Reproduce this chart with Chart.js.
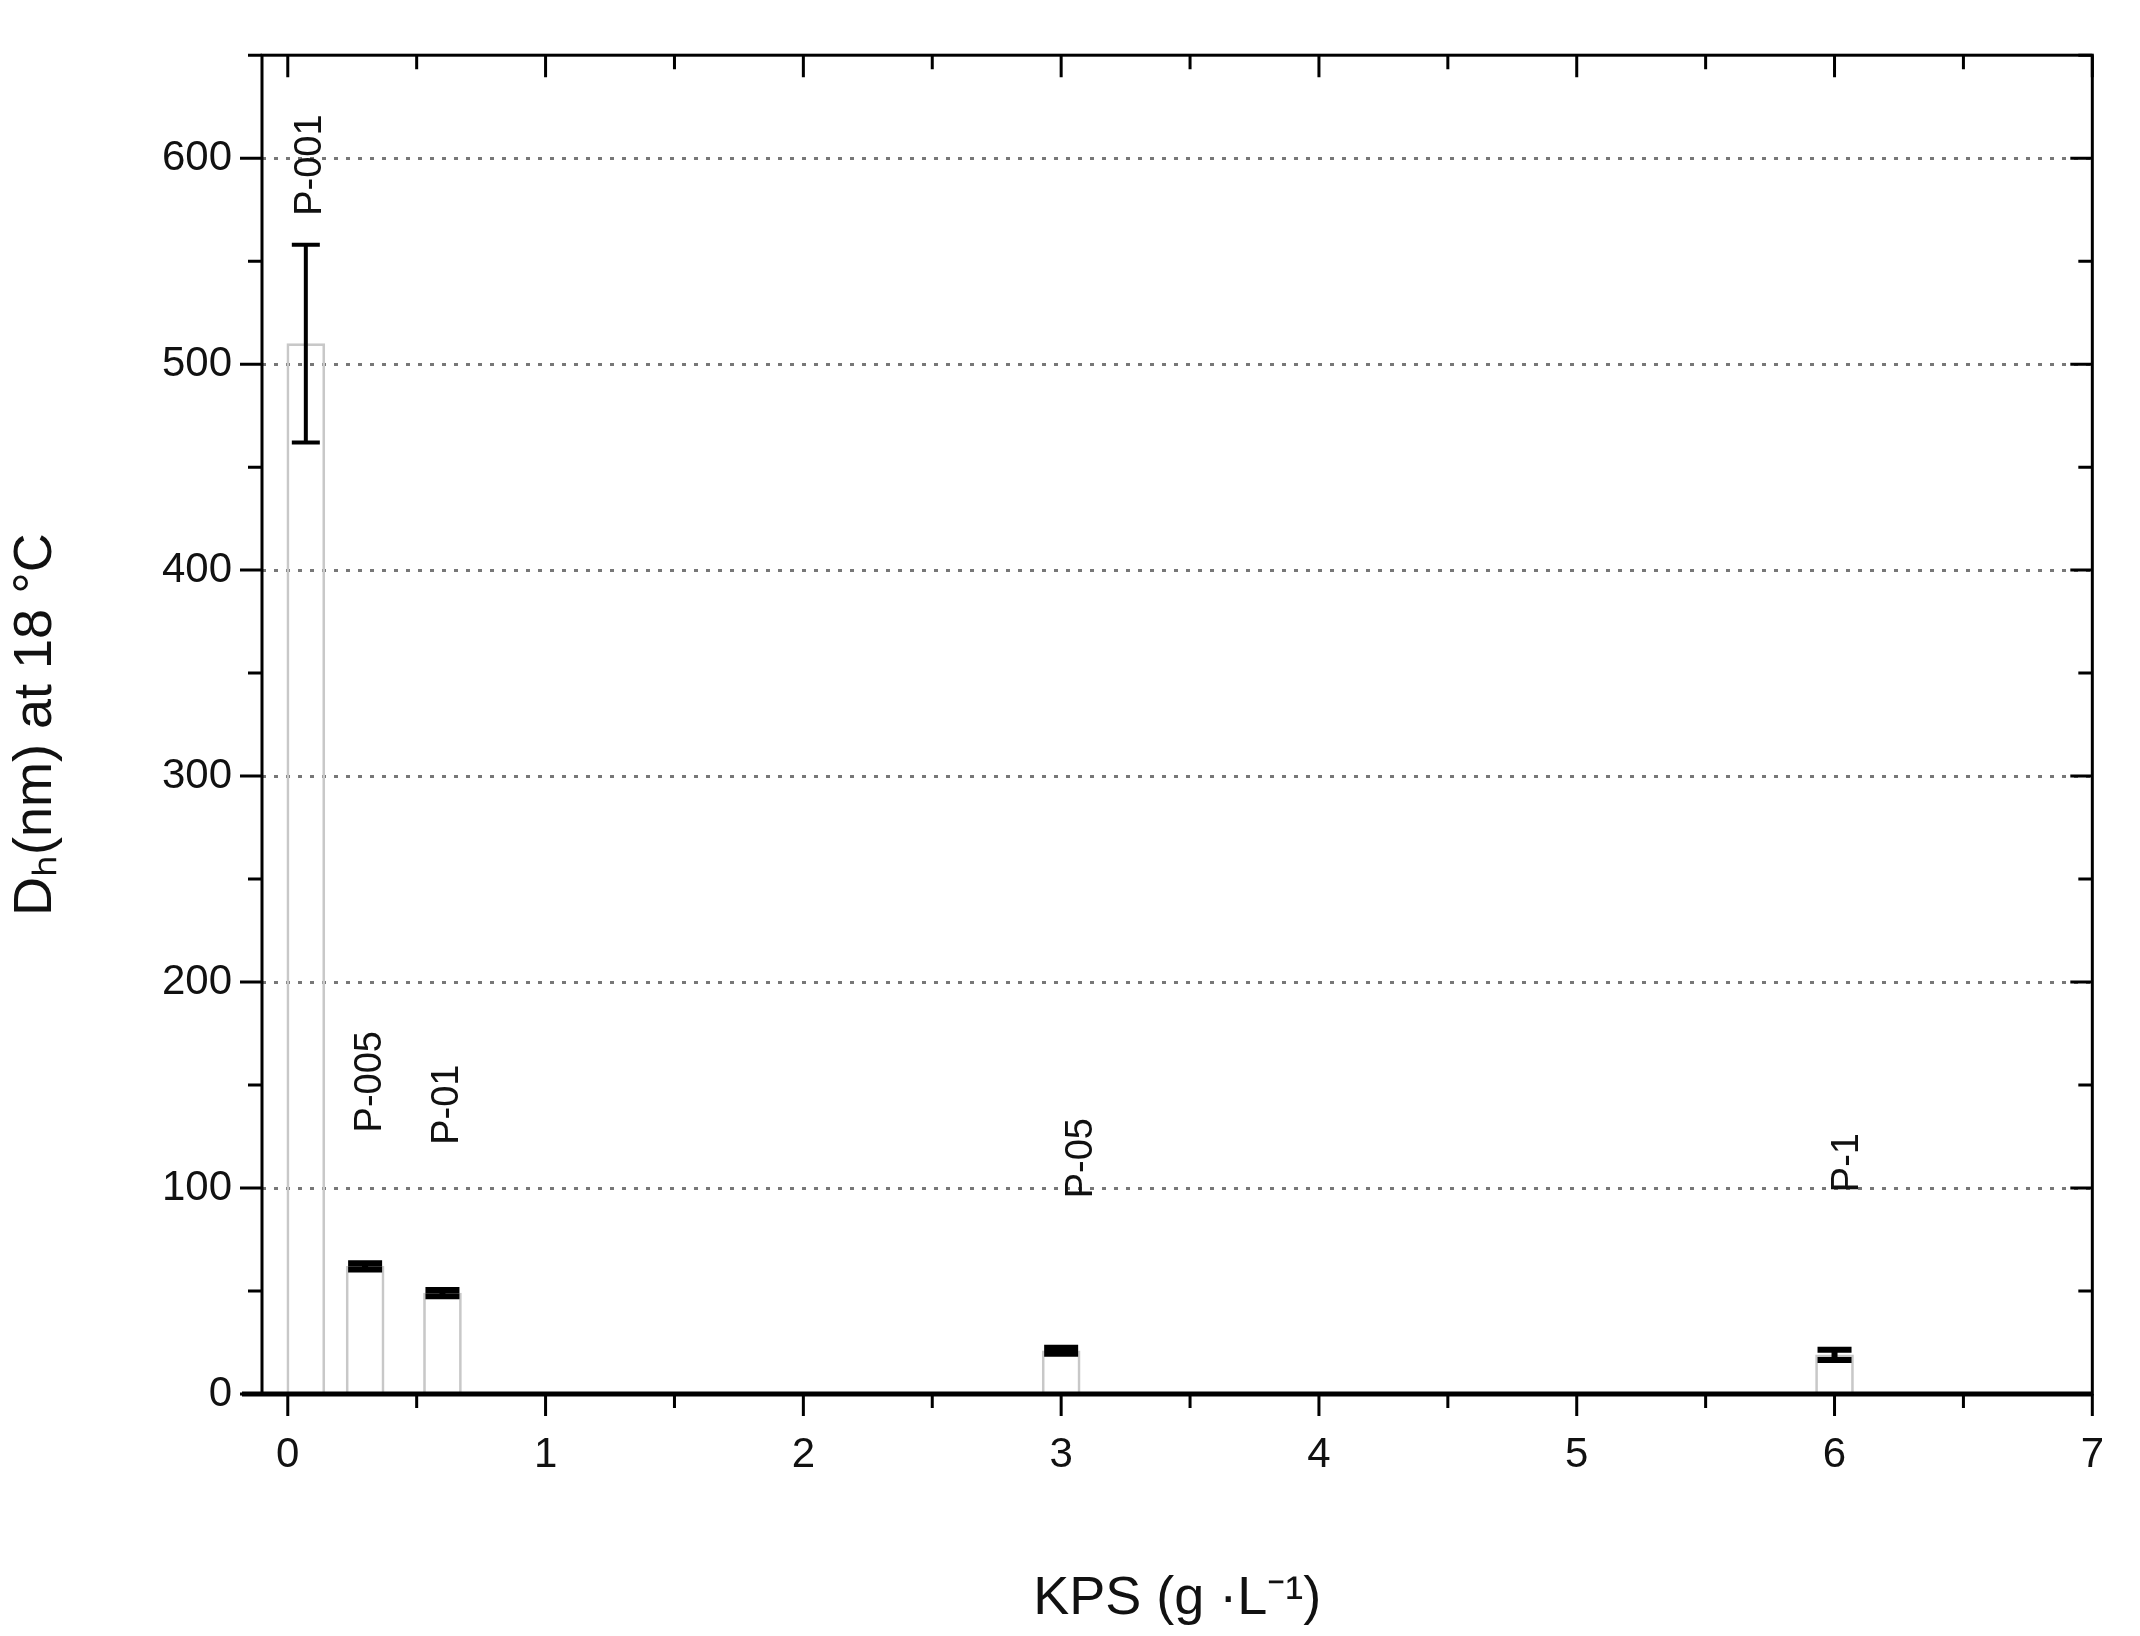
<!DOCTYPE html>
<html>
<head>
<meta charset="utf-8">
<script src="https://cdn.jsdelivr.net/npm/chart.js@4.4.1/dist/chart.umd.min.js"></script>
<style>
  html, body { margin: 0; padding: 0; background: #fff; }
  #wrap { width: 2140px; height: 1636px; }
</style>
</head>
<body>
<div id="wrap"><canvas id="c"></canvas></div>
<script>
// Dados
const amostras = ["P-001", "P-005", "P-01", "P-05", "P-1"];
const kps = [0.07, 0.3, 0.6, 3.0, 6.0];
const dh = [510, 62, 49, 21, 19];
const erro = [48, 1.5, 1.5, 1.5, 2.5];
// posição (x, y de início) dos rótulos verticais
const rotuloX = [0.09, 0.32, 0.62, 3.08, 6.05];
const rotuloY = [572, 127, 121, 95, 98];
const yTicks = [0, 100, 200, 300, 400, 500, 600];
const xTicks = [0, 1, 2, 3, 4, 5, 6, 7];

const FONTE = "'Liberation Sans', Arial, sans-serif";

// Barras de erro, rótulos, moldura e marcas de escala
const extras = {
  id: "extras",
  afterDatasetsDraw(chart) {
    const { ctx, chartArea: a, scales: { x, y } } = chart;
    ctx.save();
    ctx.strokeStyle = "#000";
    // barras de erro
    kps.forEach((k, i) => {
      const px = x.getPixelForValue(k);
      const top = y.getPixelForValue(dh[i] + erro[i]);
      const bot = y.getPixelForValue(dh[i] - erro[i]);
      const cap = i === 0 ? 14 : 17;
      ctx.lineWidth = i === 0 ? 4 : 6;
      ctx.beginPath();
      ctx.moveTo(px, top); ctx.lineTo(px, bot);
      ctx.moveTo(px - cap, top); ctx.lineTo(px + cap, top);
      ctx.moveTo(px - cap, bot); ctx.lineTo(px + cap, bot);
      ctx.stroke();
    });
    // rótulos das amostras
    ctx.fillStyle = "#111";
    ctx.font = "38px " + FONTE;
    ctx.textBaseline = "middle";
    ctx.textAlign = "left";
    amostras.forEach((s, i) => {
      ctx.save();
      ctx.translate(x.getPixelForValue(rotuloX[i]), y.getPixelForValue(rotuloY[i]));
      ctx.rotate(-Math.PI / 2);
      ctx.fillText(s, 0, 0);
      ctx.restore();
    });
    // moldura
    ctx.lineWidth = 3;
    ctx.strokeRect(a.left, a.top, a.right - a.left, a.bottom - a.top);
    ctx.lineWidth = 5;
    ctx.beginPath(); ctx.moveTo(a.left - 20, a.bottom); ctx.lineTo(a.right, a.bottom); ctx.stroke();
    // marcas de escala
    ctx.lineWidth = 3;
    ctx.beginPath();
    for (let v = 0; v <= 7; v += 0.5) {
      const px = x.getPixelForValue(v);
      const len = v % 1 === 0 ? 22 : 14;
      ctx.moveTo(px, a.bottom); ctx.lineTo(px, a.bottom + len);
      ctx.moveTo(px, a.top); ctx.lineTo(px, a.top + len);
    }
    for (let v = 0; v <= 650; v += 50) {
      const py = y.getPixelForValue(v);
      const len = v % 100 === 0 ? 22 : 14;
      ctx.moveTo(a.left, py); ctx.lineTo(a.left - len, py);
      ctx.moveTo(a.right, py); ctx.lineTo(a.right - len, py);
    }
    ctx.stroke();
    ctx.restore();
  },
};

new Chart(document.getElementById("c"), {
  type: "bar",
  data: {
    datasets: [{
      data: kps.map((k, i) => ({ x: k, y: dh[i] })),
      backgroundColor: "rgba(255,255,255,0)",
      borderColor: "#c8c8c8",
      borderWidth: 2,
      barThickness: 38,
    }],
  },
  plugins: [extras],
  options: {
    responsive: true,
    maintainAspectRatio: false,
    animation: false,
    layout: { padding: { top: 0, right: 28, left: 0, bottom: 0 } },
    plugins: { legend: { display: false }, tooltip: { enabled: false } },
    scales: {
      x: {
        type: "linear",
        offset: false,
        min: -0.1, max: 7,
        afterBuildTicks: (s) => { s.ticks = xTicks.map((v) => ({ value: v })); },
        afterFit: (s) => { s.height = 242; },
        grid: { display: false, drawTicks: false, offset: false },
        border: { display: false },
        ticks: { color: "#111", font: { family: FONTE, size: 42 }, padding: 36 },
        title: {
          display: true, text: "KPS (g ·L⁻¹)", color: "#111",
          font: { family: FONTE, size: 54 }, padding: { top: 60 },
        },
      },
      y: {
        min: 0, max: 650,
        afterBuildTicks: (s) => { s.ticks = yTicks.map((v) => ({ value: v })); },
        afterFit: (s) => { s.width = 262; },
        grid: {
          drawTicks: false, color: (c) => (c.tick.value === 0 ? "rgba(0,0,0,0)" : "#777"),
          lineWidth: 3,
        },
        border: { display: false, dash: [4, 8] },
        ticks: { color: "#111", font: { family: FONTE, size: 42 }, padding: 30 },
        title: {
          display: true, text: "Dₕ(nm) at 18 °C", color: "#111",
          font: { family: FONTE, size: 54 }, padding: { bottom: 16 },
        },
      },
    },
  },
});
</script>
</body>
</html>
